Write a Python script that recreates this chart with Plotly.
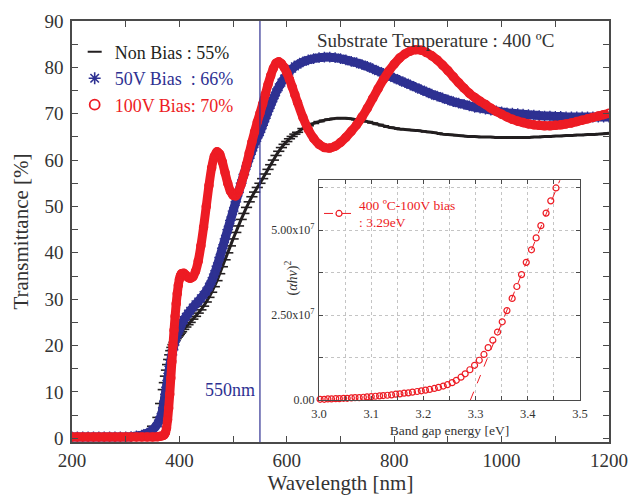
import plotly.graph_objects as go

FONT = "Liberation Serif, Times New Roman, serif"
BLACK = "#231F20"
BLUE = "#2E3192"
RED = "#ED1C24"
FRAME = "#4a4a4a"
TEXT = "#333333"

# ---- transmittance spectra (wavelength in nm, transmittance in %) ----
wavelength = [
    200, 210, 220, 230, 240, 250, 260, 270, 280, 290, 300, 310, 320, 330, 340, 350, 360,
    365, 370,
    372, 374, 376, 378, 380, 382, 384, 386, 388, 390, 392, 394, 396, 398, 400, 402, 404,
    408, 412, 416, 420,
    425, 430, 435, 440, 445, 450, 455, 460, 465, 470, 475, 480, 485, 490, 495, 500,
    505, 510, 515, 520, 525, 530, 535, 540, 545, 550, 555, 560, 565, 570, 575, 580,
    585, 590, 595, 600, 605, 610, 615, 620,
    630, 640, 650, 660, 670, 680, 690, 700, 710, 720, 730, 740, 750, 760, 770, 780,
    790, 800, 810, 820, 830, 840, 850, 860, 870, 880, 890, 900, 910, 920, 930, 940,
    950, 960, 970, 980, 990, 1000, 1010, 1020, 1030, 1040, 1050, 1060, 1070, 1080,
    1090, 1100, 1110, 1120, 1130, 1140, 1150, 1160, 1170, 1180, 1190, 1200,
]

t_non_bias = [
    0.3, 0.3, 0.3, 0.3, 0.3, 0.3, 0.3, 0.3, 0.3, 0.3, 0.3, 0.4, 0.6, 1.0, 1.6, 2.6, 4.5,
    7.5, 10.5,
    12.0, 13.4, 14.7, 15.9, 17.0, 18.0, 18.9, 19.6, 20.2, 20.7, 21.1, 21.5, 21.8, 22.1, 22.4, 22.7, 23.0,
    23.5, 24.0, 24.5, 25.0,
    25.7, 26.3, 27.0, 27.7, 28.5, 29.4, 30.4, 31.5, 32.7, 34.0, 35.5, 37.0, 38.5, 40.0, 41.5, 43.0,
    44.4, 45.8, 47.2, 48.5, 49.8, 51.0, 52.1, 53.1, 54.1, 55.0, 56.0, 57.0, 58.0, 59.0, 60.0, 61.0,
    61.9, 62.7, 63.4, 64.0, 64.6, 65.1, 65.6, 66.0,
    66.8, 67.4, 67.9, 68.3, 68.6, 68.8, 69.0, 69.0, 69.0, 68.9, 68.7, 68.5, 68.3, 68.0, 67.7, 67.4,
    67.1, 66.9, 66.7, 66.6, 66.5, 66.4, 66.3, 66.1, 66.0, 65.8, 65.6, 65.5, 65.4, 65.3, 65.2, 65.1,
    65.1, 65.0, 65.0, 65.0, 64.9, 64.9, 64.9, 64.9, 64.9, 64.9, 64.9, 65.0, 65.0, 65.1,
    65.1, 65.2, 65.2, 65.3, 65.3, 65.4, 65.4, 65.5, 65.5, 65.6, 65.7, 65.8,
]

t_50v_bias = [
    0.3, 0.3, 0.3, 0.3, 0.3, 0.3, 0.3, 0.3, 0.3, 0.3, 0.3, 0.35, 0.5, 0.7, 1.1, 1.8, 3.2,
    4.6, 6.6,
    8.0, 9.5, 11.0, 12.5, 14.0, 15.5, 16.8, 18.0, 19.1, 20.1, 21.0, 21.8, 22.5, 23.1, 23.7, 24.2, 24.7,
    25.5, 26.2, 26.9, 27.5,
    28.2, 28.9, 29.5, 30.2, 30.9, 31.7, 32.7, 33.9, 35.4, 37.1, 39.0, 41.0, 43.0, 45.0, 47.0, 49.0,
    51.0, 53.0, 55.0, 56.9, 58.7, 60.4, 62.0, 63.5, 64.8, 66.0, 67.5, 69.0, 70.5, 71.9, 73.3, 74.6,
    75.7, 76.7, 77.6, 78.4, 79.1, 79.7, 80.2, 80.6,
    81.2, 81.6, 81.9, 82.1, 82.2, 82.2, 82.1, 81.9, 81.6, 81.3, 81.0, 80.6, 80.2, 79.7, 79.2, 78.7,
    78.2, 77.7, 77.2, 76.7, 76.2, 75.7, 75.2, 74.7, 74.2, 73.8, 73.4, 73.0, 72.6, 72.3, 72.0, 71.7,
    71.4, 71.2, 71.0, 70.8, 70.6, 70.4, 70.2, 70.1, 70.0, 69.9, 69.8, 69.7, 69.6, 69.5,
    69.5, 69.4, 69.4, 69.3, 69.3, 69.3, 69.3, 69.3, 69.3, 69.3, 69.3, 69.3,
]

t_100v_bias = [
    0.3, 0.3, 0.3, 0.3, 0.3, 0.3, 0.3, 0.3, 0.3, 0.3, 0.3, 0.3, 0.3, 0.3, 0.3, 0.3, 0.35,
    0.45, 0.6,
    0.8, 1.2, 2.2, 4.0, 6.5, 9.5, 13.0, 16.5, 20.0, 23.3, 26.3, 29.0, 31.2, 33.0, 34.3, 35.1, 35.5,
    35.6, 35.2, 34.7, 34.5,
    34.8, 36.0, 38.2, 41.5, 45.5, 50.0, 54.5, 58.3, 60.8, 61.8, 61.3, 59.6, 57.3, 55.0, 53.3, 52.4,
    52.3, 53.2, 54.8, 56.8, 59.1, 61.5, 63.9, 66.1, 68.2, 70.1, 72.1, 74.2, 76.3, 78.2, 79.8, 80.9,
    81.2, 80.8, 80.0, 78.8, 77.4, 75.8, 74.1, 72.4,
    69.2, 66.6, 64.7, 63.4, 62.7, 62.6, 63.0, 63.8, 64.9, 66.2, 67.6, 69.3, 71.2, 73.3, 75.4, 77.4,
    79.2, 80.7, 82.0, 82.9, 83.5, 83.8, 83.7, 83.2, 82.5, 81.6, 80.5, 79.3, 78.0, 76.7, 75.5, 74.4,
    73.5, 72.7, 72.0, 71.2, 70.5, 69.9, 69.3, 68.8, 68.4, 68.1, 67.8, 67.6, 67.5, 67.4,
    67.4, 67.5, 67.6, 67.8, 68.0, 68.3, 68.6, 68.9, 69.2, 69.5, 69.8, 70.1,
]

series_names = ["Non Bias : 55%", "50V Bias&nbsp; : 66%", "100V Bias: 70%"]
REF_WL = 550

# ---- Tauc plot of the 100 V film ----
energy_ev = [
    3.002, 3.010, 3.017, 3.024, 3.032, 3.039, 3.047, 3.054, 3.062, 3.069, 3.077, 3.085,
    3.092, 3.100, 3.108, 3.116, 3.123, 3.131, 3.139, 3.147, 3.155, 3.163, 3.171, 3.179,
    3.188, 3.196, 3.204, 3.212, 3.221, 3.229, 3.238, 3.246, 3.255, 3.263, 3.272, 3.280,
    3.289, 3.298, 3.307, 3.316, 3.324, 3.333, 3.342, 3.351, 3.360, 3.370, 3.379, 3.388,
    3.397, 3.407, 3.416, 3.425, 3.435, 3.444, 3.454,
]
ahv_sq_e7 = [
    0.02, 0.02, 0.03, 0.03, 0.04, 0.04, 0.05, 0.05, 0.06, 0.07, 0.07, 0.08,
    0.09, 0.10, 0.11, 0.12, 0.13, 0.14, 0.15, 0.17, 0.18, 0.20, 0.21, 0.23,
    0.25, 0.27, 0.29, 0.31, 0.34, 0.37, 0.41, 0.45, 0.51, 0.58, 0.67, 0.77,
    0.89, 1.02, 1.17, 1.34, 1.54, 1.76, 2.00, 2.30, 2.63, 2.99, 3.34, 3.69,
    4.05, 4.42, 4.77, 5.13, 5.50, 5.86, 6.24,
]
fit_ev = [3.29, 3.465]
fit_e7 = [0.0, 6.6]
tauc_label = "400 ºC-100V bias<br>: 3.29eV"

fig = go.Figure()

# main spectra: a thick line with the sample markers sitting on it
fig.add_trace(go.Scatter(
    x=wavelength, y=t_non_bias, mode="lines+markers", showlegend=False,
    line=dict(color=BLACK, width=3, shape="spline"),
    marker=dict(symbol="line-ew-open", size=8, color=BLACK, line=dict(color=BLACK, width=1.6)),
))
fig.add_trace(go.Scatter(
    x=wavelength, y=t_50v_bias, mode="lines+markers", showlegend=False,
    line=dict(color=BLUE, width=9, shape="spline"),
    marker=dict(symbol="asterisk-open", size=9, color=BLUE, line=dict(color=BLUE, width=1.4)),
))
fig.add_trace(go.Scatter(
    x=wavelength, y=t_100v_bias, mode="lines+markers", showlegend=False,
    line=dict(color=RED, width=9, shape="spline"),
    marker=dict(symbol="circle-open", size=8, color=RED, line=dict(color=RED, width=1.5)),
))

# legend entries
for name, col, sym, lw in [
    (series_names[0], BLACK, "line-ew-open", 2),
    (series_names[1], BLUE, "asterisk-open", 1.6),
    (series_names[2], RED, "circle-open", 1.8),
]:
    fig.add_trace(go.Scatter(
        x=[None], y=[None], mode="markers",
        name=f'<span style="color:{col}">{name}</span>',
        marker=dict(symbol=sym, size=10, color=col, line=dict(color=col, width=lw)),
        legend="legend",
    ))

# inset: Tauc plot
fig.add_trace(go.Scatter(
    x=fit_ev, y=[v * 1e7 for v in fit_e7], mode="lines", xaxis="x2", yaxis="y2",
    showlegend=False, line=dict(color=RED, width=1, dash="dash"),
))
fig.add_trace(go.Scatter(
    x=energy_ev, y=[v * 1e7 for v in ahv_sq_e7], mode="markers", xaxis="x2", yaxis="y2",
    showlegend=False, cliponaxis=False,
    marker=dict(symbol="circle-open", size=6, color=RED, line=dict(color=RED, width=1.2)),
))
fig.add_trace(go.Scatter(
    x=[None], y=[None], mode="lines+markers", xaxis="x2", yaxis="y2",
    name=tauc_label, legend="legend2",
    line=dict(color=RED, width=1, dash="dash"),
    marker=dict(symbol="circle-open", size=6, color=RED, line=dict(color=RED, width=1.2)),
))

main_xt = list(range(200, 1201, 100))
main_yt = list(range(0, 91, 5))
inset_xt = [3.0, 3.05, 3.1, 3.15, 3.2, 3.25, 3.3, 3.35, 3.4, 3.45, 3.5]
inset_yt = [0, 1.25e7, 2.5e7, 3.75e7, 5e7, 6.25e7]

fig.update_layout(
    width=629, height=495,
    margin=dict(l=72, r=20, t=21, b=53),
    paper_bgcolor="white", plot_bgcolor="white",
    font=dict(family=FONT, color=TEXT),
    xaxis=dict(
        range=[200, 1200], showgrid=False, zeroline=False, automargin=False,
        showline=True, linecolor=FRAME, linewidth=1.6, mirror="ticks",
        ticks="inside", ticklen=6, tickwidth=1.3, tickcolor=FRAME,
        tickvals=main_xt, ticktext=[str(v) if v % 200 == 0 else "" for v in main_xt],
        tickfont=dict(size=19, family=FONT, color=TEXT),
        ticklabelstandoff=0,
        title=dict(text="Wavelength [nm]", font=dict(size=21, family=FONT, color=TEXT),
                   standoff=26),
    ),
    yaxis=dict(
        range=[-0.8, 90], showgrid=False, zeroline=False, automargin=False,
        showline=True, linecolor=FRAME, linewidth=1.6, mirror="ticks",
        ticks="inside", ticklen=6, tickwidth=1.3, tickcolor=FRAME,
        tickvals=main_yt, ticktext=[str(v) if v % 10 == 0 else "" for v in main_yt],
        tickfont=dict(size=19, family=FONT, color=TEXT),
        ticklabelstandoff=3,
        title=dict(text="Transmittance [%]", font=dict(size=21, family=FONT, color=TEXT),
                   standoff=10),
    ),
    xaxis2=dict(
        domain=[0.46, 0.946], anchor="y2", range=[3.0, 3.5], zeroline=False, automargin=False,
        showline=True, linecolor=FRAME, linewidth=1.3, mirror="ticks",
        ticks="inside", ticklen=4, tickwidth=1, tickcolor=FRAME,
        showgrid=True, gridcolor="#c4c4c4", griddash="dot", gridwidth=1,
        tickvals=inset_xt,
        ticktext=[f"{v:.1f}" if round(v * 100) % 10 == 0 else "" for v in inset_xt],
        tickfont=dict(size=12.5, family=FONT, color=TEXT),
        ticklabelstandoff=2,
        title=dict(text="Band gap energy [eV]", font=dict(size=13.5, family=FONT, color=TEXT),
                   standoff=5),
    ),
    yaxis2=dict(
        domain=[0.0998, 0.622], anchor="x2", range=[0, 6.47e7], zeroline=False, automargin=False,
        showline=True, linecolor=FRAME, linewidth=1.3, mirror="ticks",
        ticks="inside", ticklen=4, tickwidth=1, tickcolor=FRAME,
        showgrid=True, gridcolor="#c4c4c4", griddash="dot", gridwidth=1,
        tickvals=inset_yt,
        ticktext=["0.00", "", "2.50x10<sup>7</sup>", "", "5.00x10<sup>7</sup>", ""],
        tickfont=dict(size=12, family=FONT, color=TEXT),
        ticklabelstandoff=1,
    ),
    legend=dict(
        x=0.005, y=0.97, xanchor="left", yanchor="top",
        bgcolor="rgba(0,0,0,0)", borderwidth=0,
        font=dict(size=18, family=FONT), tracegroupgap=0,
    ),
    legend2=dict(
        x=0.46, y=0.6, xanchor="left", yanchor="top",
        bgcolor="rgba(0,0,0,0)", borderwidth=0,
        font=dict(size=13.5, family=FONT, color=RED),
    ),
    shapes=[dict(
        type="line", xref="x", yref="paper", x0=REF_WL, x1=REF_WL, y0=0, y1=1,
        line=dict(color=BLUE, width=1.2), layer="above",
    )],
    annotations=[
        dict(text=f"{REF_WL}nm", x=REF_WL - 6, y=10.4, xref="x", yref="y",
             xanchor="right", yanchor="middle", showarrow=False,
             font=dict(size=18, family=FONT, color=BLUE)),
        dict(text="Substrate Temperature : 400 ºC", x=876, y=85.7, xref="x", yref="y",
             xanchor="center", yanchor="middle", showarrow=False,
             font=dict(size=19, family=FONT, color=TEXT)),
        dict(text="(<i>αhν</i>)<sup>2</sup>", x=0.409, y=0.39, xref="paper", yref="paper",
             xanchor="center", yanchor="middle", showarrow=False, textangle=-90,
             font=dict(size=14, family=FONT, color=TEXT)),
    ],
)

fig.write_html("out.html")
